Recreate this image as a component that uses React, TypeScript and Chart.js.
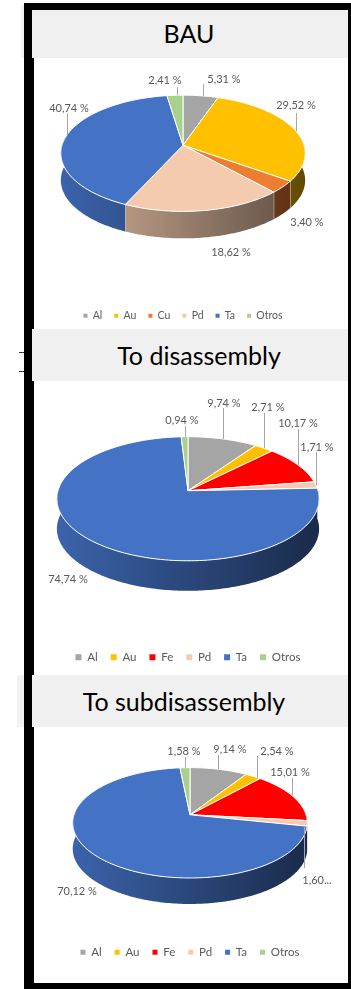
import React, { useEffect, useRef } from "react";
import { Chart, registerables } from "chart.js";

Chart.register(...registerables);

// Metal shares per scenario, in percent.
const bauCategories = ["Al", "Au", "Cu", "Pd", "Ta", "Otros"];
const bauValues = [5.31, 29.52, 3.4, 18.62, 40.74, 2.41];
const disassemblyCategories = ["Al", "Au", "Fe", "Pd", "Ta", "Otros"];
const disassemblyValues = [9.74, 2.71, 10.17, 1.71, 74.74, 0.94];
const subdisassemblyCategories = ["Al", "Au", "Fe", "Pd", "Ta", "Otros"];
const subdisassemblyValues = [9.14, 2.54, 15.01, 1.6, 70.12, 1.58];

const bauColors = ["#a5a5a5", "#ffc000", "#ed7d31", "#f4cbae", "#4472c4", "#a9d18e"];
const feColors = ["#a5a5a5", "#ffc000", "#ff0000", "#f4cbae", "#4472c4", "#a9d18e"];

const FONT = "Lato, 'Open Sans', sans-serif";
const TEXT_COLOR = "#595959";
const LEADER_COLOR = "#a6a6a6";

type LabelSpot = { x: number; y: number; lx?: number; ly?: number; clip?: boolean };
type Panel = {
  title: string;
  titleX: number;
  bandTop: number;
  categories: string[];
  values: number[];
  colors: string[];
  cx: number;
  cy: number;
  rx: number;
  ry: number;
  tilt: number;
  depth: number;
  legendY: number;
  legendFont: number;
  legendGap: number;
  legendBox: number;
  legendRow: number;
  spots: LabelSpot[];
};

// Page positions for each pie; spots are keyed by slice order.
const panels: Panel[] = [
  {
    title: "BAU", titleX: 189, bandTop: 10,
    categories: bauCategories, values: bauValues, colors: bauColors,
    cx: 183, cy: 146, rx: 121, ry: 57, tilt: 0.138, depth: 27,
    legendY: 315, legendFont: 10.5, legendGap: 12, legendBox: 4, legendRow: 31,
    spots: [
      { x: 224, y: 79, lx: 203, ly: 84 },
      { x: 296, y: 105, lx: 296, ly: 113 },
      { x: 307, y: 222 },
      { x: 231, y: 252 },
      { x: 69, y: 108, lx: 67, ly: 113 },
      { x: 165, y: 80, lx: 177, ly: 87 },
    ],
  },
  {
    title: "To disassembly", titleX: 199, bandTop: 329,
    categories: disassemblyCategories, values: disassemblyValues, colors: feColors,
    cx: 188, cy: 491, rx: 130, ry: 61, tilt: 0.129, depth: 30,
    legendY: 657, legendFont: 11.5, legendGap: 13, legendBox: 6, legendRow: 34,
    spots: [
      { x: 224, y: 403, lx: 223, ly: 408 },
      { x: 268, y: 407, lx: 264, ly: 413 },
      { x: 298, y: 423, lx: 298, ly: 429 },
      { x: 317, y: 447, lx: 316, ly: 452 },
      { x: 68, y: 579 },
      { x: 182, y: 420, lx: 185, ly: 426 },
    ],
  },
  {
    title: "To subdisassembly", titleX: 184, bandTop: 675,
    categories: subdisassemblyCategories, values: subdisassemblyValues, colors: feColors,
    cx: 190, cy: 815, rx: 116, ry: 54, tilt: 0.146, depth: 26,
    legendY: 952, legendFont: 11.5, legendGap: 13, legendBox: 5, legendRow: 34,
    spots: [
      { x: 230, y: 749, lx: 218, ly: 755 },
      { x: 277, y: 751, lx: 257, ly: 756 },
      { x: 290, y: 772, lx: 292, ly: 778 },
      { x: 317, y: 880, lx: 304, ly: 868, clip: true },
      { x: 77, y: 891 },
      { x: 184, y: 751, lx: 185, ly: 757 },
    ],
  },
];

const formatShare = (v: number) => v.toFixed(2).replace(".", ",") + " %";

function shade(hex: string, f: number) {
  const n = parseInt(hex.slice(1), 16);
  const c = [(n >> 16) & 255, (n >> 8) & 255, n & 255].map((v) => Math.round(v * f));
  return `rgb(${c[0]},${c[1]},${c[2]})`;
}

// Draws the arcs as a tilted disc with a side wall, taking the angles from the
// controller's arc elements, then adds the data labels and their leader lines.
const tiltedPie = {
  id: "tiltedPie",
  beforeDatasetDraw(chart: any, args: any, opts: any) {
    const { ctx } = chart;
    const meta = chart.getDatasetMeta(args.index);
    const { tilt, depth, ry, spots, values } = opts;
    const arcs = meta.data.map((el: any) => el.getProps(["startAngle", "endAngle", "outerRadius", "x", "y"], true));
    const { x: cx, y: cy, outerRadius: rx } = arcs[0];
    const project = (a: number) => {
      const u = Math.cos(a);
      const v = Math.sin(a);
      const w = 1 - tilt * v;
      return { x: cx + (rx * u) / w, y: cy + (ry * v) / w, v };
    };
    const colors = chart.data.datasets[args.index].backgroundColor as string[];
    const left = cx - rx * 1.01;
    const right = cx + rx * 1.01;
    const step = Math.PI / 180;

    ctx.save();
    // side wall, only the part of the rim that faces the viewer
    arcs.forEach((arc: any, i: number) => {
      const from = Math.max(arc.startAngle, -0.15);
      const to = Math.min(arc.endAngle, Math.PI + 0.15);
      const ranges = [[from, to]];
      if (arc.endAngle > 2 * Math.PI) {
        ranges.push([Math.max(arc.startAngle, 2 * Math.PI - 0.15), arc.endAngle]);
      }
      ranges.forEach(([a0, a1]) => {
        if (a1 <= a0) return;
        const g = ctx.createLinearGradient(left, 0, right, 0);
        g.addColorStop(0, shade(colors[i], 0.87));
        g.addColorStop(1, shade(colors[i], 0.38));
        ctx.beginPath();
        const pts: { x: number; y: number }[] = [];
        for (let a = a0; a < a1; a += step) pts.push(project(a));
        pts.push(project(a1));
        pts.forEach((p, k) => (k ? ctx.lineTo(p.x, p.y) : ctx.moveTo(p.x, p.y)));
        pts.reverse().forEach((p) => ctx.lineTo(p.x, p.y + depth));
        ctx.closePath();
        ctx.fillStyle = g;
        ctx.fill();
        ctx.strokeStyle = "rgba(255,255,255,0.75)";
        ctx.lineWidth = 0.8;
        const end = project(a1);
        if (end.v > 0 && a1 < Math.PI) {
          ctx.beginPath();
          ctx.moveTo(end.x, end.y);
          ctx.lineTo(end.x, end.y + depth);
          ctx.stroke();
        }
      });
    });

    // top face
    arcs.forEach((arc: any, i: number) => {
      ctx.beginPath();
      ctx.moveTo(cx, cy);
      for (let a = arc.startAngle; a < arc.endAngle; a += step) {
        const p = project(a);
        ctx.lineTo(p.x, p.y);
      }
      const e = project(arc.endAngle);
      ctx.lineTo(e.x, e.y);
      ctx.closePath();
      ctx.fillStyle = colors[i];
      ctx.fill();
      ctx.strokeStyle = "#ffffff";
      ctx.lineWidth = 1;
      ctx.lineJoin = "round";
      ctx.stroke();
    });

    // leader lines drop straight down onto the slice's rim; value labels on top
    ctx.font = `11px ${FONT}`;
    ctx.textAlign = "center";
    ctx.textBaseline = "middle";
    arcs.forEach((arc: any, i: number) => {
      const s = spots[i];
      if (s.lx !== undefined) {
        let best = project(arc.startAngle);
        for (let a = arc.startAngle; a <= arc.endAngle; a += step / 2) {
          const p = project(a);
          if (Math.abs(p.x - s.lx) < Math.abs(best.x - s.lx)) best = p;
        }
        ctx.beginPath();
        ctx.moveTo(s.lx + 0.5, s.ly);
        ctx.lineTo(s.lx + 0.5, best.y);
        ctx.strokeStyle = LEADER_COLOR;
        ctx.lineWidth = 1;
        ctx.stroke();
      }
      const text = formatShare(values[i]);
      ctx.fillStyle = TEXT_COLOR;
      ctx.fillText(s.clip ? text.replace(" %", "...") : text, s.x, s.y);
    });
    ctx.restore();
    return false;
  },
};

function PieChart({ panel }: { panel: Panel }) {
  const ref = useRef<HTMLCanvasElement>(null);
  // The chart area above the legend row stays centred on the pie, so the canvas
  // box is derived from the legend's position and the height it occupies.
  const bottom = panel.legendY + 16;
  const top = 2 * panel.cy - bottom + panel.legendRow;
  const canvasLeft = 33;
  const width = 2 * (panel.cx - canvasLeft);

  useEffect(() => {
    const chart = new Chart(ref.current!, {
      type: "pie",
      data: {
        labels: panel.categories,
        datasets: [{ data: panel.values, backgroundColor: panel.colors, borderWidth: 0, radius: panel.rx }],
      },
      options: {
        animation: false,
        responsive: false,
        events: [],
        layout: { padding: 0 },
        plugins: {
          tooltip: { enabled: false },
          tiltedPie: {
            tilt: panel.tilt, depth: panel.depth, ry: panel.ry,
            spots: panel.spots.map((s) => ({
              ...s,
              x: s.x - canvasLeft,
              y: s.y - top,
              lx: s.lx === undefined ? undefined : s.lx - canvasLeft,
              ly: s.ly === undefined ? undefined : s.ly - top,
            })),
            values: panel.values,
          },
          legend: {
            position: "bottom",
            labels: {
              boxWidth: panel.legendBox,
              boxHeight: panel.legendBox,
              padding: panel.legendGap,
              color: TEXT_COLOR,
              font: { family: FONT, size: panel.legendFont },
            },
          },
        },
      } as any,
      plugins: [tiltedPie as any],
    });
    return () => chart.destroy();
  }, [panel, top]);

  return (
    <canvas
      ref={ref}
      width={width}
      height={bottom - top}
      style={{ position: "absolute", left: canvasLeft, top, width, height: bottom - top }}
    />
  );
}

const block = (left: number, top: number, width: number, height: number, background: string): React.CSSProperties => ({
  position: "absolute", left, top, width, height, background,
});

export default function App() {
  return (
    <div style={{ position: "absolute", left: 0, top: 0, width: 351, height: 989, overflow: "hidden", background: "#fff" }}>
      {/* light strips sticking out left of the frame */}
      <div style={block(21, 5, 4, 53, "#f2f2f2")} />
      <div style={block(17, 675, 8, 52, "#f2f2f2")} />
      <div style={block(19, 352, 7, 1, "#333")} />
      <div style={block(19, 371, 7, 1, "#333")} />
      {/* black frame */}
      <div style={block(24, 3, 327, 7, "#000")} />
      <div style={block(24, 3, 10, 986, "#000")} />
      <div style={block(348, 3, 3, 986, "#000")} />
      <div style={block(24, 983, 327, 6, "#000")} />
      {panels.map((p) => (
        <div
          key={p.title}
          style={{
            ...block(32, p.bandTop, 316, p.bandTop === 10 ? 48 : 52, "#f0f0f0"),
            font: `25px ${FONT}`,
            color: "#000",
            lineHeight: `${p.bandTop === 10 ? 46 : 52}px`,
            textIndent: 2 * (p.titleX - 32 - 158),
            textAlign: "center",
            whiteSpace: "nowrap",
          }}
        >
          {p.title}
        </div>
      ))}
      {panels.map((p) => (
        <PieChart key={p.title} panel={p} />
      ))}
    </div>
  );
}
